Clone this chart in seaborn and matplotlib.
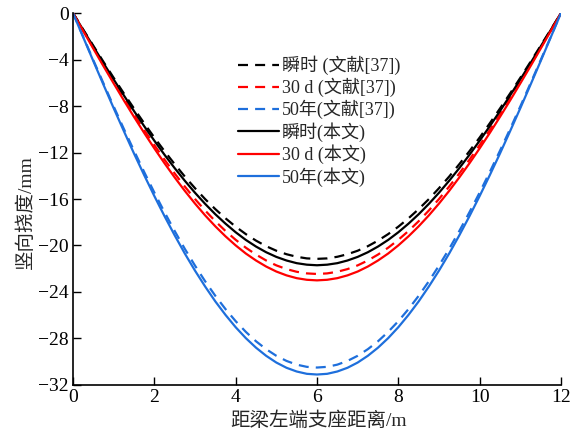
import matplotlib
matplotlib.use("Agg")
import matplotlib.pyplot as plt
import seaborn as sns
import pandas as pd

# distance from the left support (m)
x_pos = [0, 0.25, 0.5, 0.75, 1, 1.25, 1.5, 1.75, 2, 2.25, 2.5, 2.75, 3, 3.25, 3.5, 3.75,
         4, 4.25, 4.5, 4.75, 5, 5.25, 5.5, 5.75, 6, 6.25, 6.5, 6.75, 7, 7.25, 7.5, 7.75,
         8, 8.25, 8.5, 8.75, 9, 9.25, 9.5, 9.75, 10, 10.25, 10.5, 10.75, 11, 11.25, 11.5, 11.75, 12]

# vertical deflection (mm), reference [37]
ref_instant = [0, -1.41, -2.81, -4.20, -5.57, -6.91, -8.21, -9.48, -10.71, -11.88, -13.00, -14.07,
               -15.07, -16.01, -16.87, -17.66, -18.38, -19.02, -19.58, -20.06, -20.45, -20.75, -20.97, -21.11,
               -21.15,
               -21.11, -20.97, -20.75, -20.45, -20.06, -19.58, -19.02, -18.38, -17.66, -16.87, -16.01, -15.07,
               -14.07, -13.00, -11.88, -10.71, -9.48, -8.21, -6.91, -5.57, -4.20, -2.81, -1.41, 0]
ref_30d = [0, -1.50, -2.98, -4.46, -5.91, -7.33, -8.72, -10.06, -11.36, -12.61, -13.80, -14.93,
           -16.00, -16.99, -17.91, -18.75, -19.51, -20.19, -20.78, -21.29, -21.71, -22.03, -22.26, -22.40,
           -22.45,
           -22.40, -22.26, -22.03, -21.71, -21.29, -20.78, -20.19, -19.51, -18.75, -17.91, -16.99, -16.00,
           -14.93, -13.80, -12.61, -11.36, -10.06, -8.72, -7.33, -5.91, -4.46, -2.98, -1.50, 0]
ref_50y = [0, -2.03, -4.05, -6.05, -8.03, -9.96, -11.84, -13.67, -15.44, -17.13, -18.75, -20.29,
           -21.73, -23.08, -24.33, -25.47, -26.51, -27.43, -28.24, -28.92, -29.49, -29.93, -30.25, -30.44,
           -30.50,
           -30.44, -30.25, -29.93, -29.49, -28.92, -28.24, -27.43, -26.51, -25.47, -24.33, -23.08, -21.73,
           -20.29, -18.75, -17.13, -15.44, -13.67, -11.84, -9.96, -8.03, -6.05, -4.05, -2.03, 0]

# vertical deflection (mm), this paper
cur_instant = [0, -1.45, -2.88, -4.31, -5.71, -7.08, -8.43, -9.73, -10.98, -12.19, -13.34, -14.43,
               -15.46, -16.42, -17.31, -18.12, -18.86, -19.52, -20.09, -20.58, -20.98, -21.29, -21.52, -21.65,
               -21.70,
               -21.65, -21.52, -21.29, -20.98, -20.58, -20.09, -19.52, -18.86, -18.12, -17.31, -16.42, -15.46,
               -14.43, -13.34, -12.19, -10.98, -9.73, -8.43, -7.08, -5.71, -4.31, -2.88, -1.45, 0]
cur_30d = [0, -1.53, -3.06, -4.57, -6.05, -7.51, -8.93, -10.31, -11.64, -12.92, -14.14, -15.30,
           -16.39, -17.41, -18.35, -19.21, -19.99, -20.69, -21.29, -21.81, -22.24, -22.57, -22.81, -22.95,
           -23.00,
           -22.95, -22.81, -22.57, -22.24, -21.81, -21.29, -20.69, -19.99, -19.21, -18.35, -17.41, -16.39,
           -15.30, -14.14, -12.92, -11.64, -10.31, -8.93, -7.51, -6.05, -4.57, -3.06, -1.53, 0]
cur_50y = [0, -2.07, -4.13, -6.17, -8.18, -10.15, -12.08, -13.94, -15.74, -17.47, -19.12, -20.69,
           -22.16, -23.53, -24.81, -25.97, -27.03, -27.97, -28.79, -29.49, -30.07, -30.52, -30.84, -31.04,
           -31.10,
           -31.04, -30.84, -30.52, -30.07, -29.49, -28.79, -27.97, -27.03, -25.97, -24.81, -23.53, -22.16,
           -20.69, -19.12, -17.47, -15.74, -13.94, -12.08, -10.15, -8.18, -6.17, -4.13, -2.07, 0]

labels = ["瞬时 (文献[37])", "30 d (文献[37])", "50年(文献[37])",
          "瞬时(本文)", "30 d (本文)", "50年(本文)"]
x_ticks = [0, 2, 4, 6, 8, 10, 12]
y_ticks = [0, -4, -8, -12, -16, -20, -24, -28, -32]

sns.set_style("ticks")
plt.rcParams["font.family"] = ["Liberation Serif", "Noto Sans CJK SC", "DejaVu Sans"]
plt.rcParams["axes.unicode_minus"] = True

BLACK = "#000000"
RED = "#ff0000"
BLUE = "#1e6fdc"
DASH = (0, (4.5, 3.2))

series = [
    (ref_instant, BLACK, DASH),
    (ref_30d, RED, DASH),
    (ref_50y, BLUE, DASH),
    (cur_instant, BLACK, "-"),
    (cur_30d, RED, "-"),
    (cur_50y, BLUE, "-"),
]

fig = plt.figure(figsize=(5.81, 4.30), dpi=100)
ax = fig.add_axes([0.1256, 0.1047, 0.8400, 0.8650])

for (vals, color, ls), lab in zip(series, labels):
    df = pd.DataFrame({"x": x_pos, "y": vals})
    sns.lineplot(data=df, x="x", y="y", ax=ax, color=color, linestyle=ls,
                 linewidth=1.6, label=lab, sort=False)

ax.set_xlim(0, 12)
ax.set_ylim(-32, 0)
ax.set_xticks(x_ticks)
ax.set_yticks(y_ticks)
ax.set_yticklabels([f"{v}".replace("-", "\u2212") for v in y_ticks])

for side in ("top", "right"):
    ax.spines[side].set_visible(False)
for side in ("left", "bottom"):
    ax.spines[side].set_linewidth(1.2)
    ax.spines[side].set_color("black")

ax.tick_params(axis="both", direction="in", length=5.5, width=1.0,
               labelsize=14, pad=3, colors="black")

ax.set_xlabel("距梁左端支座距离/m", fontsize=14)
ax.set_ylabel("竖向挠度/mm", fontsize=14)
ax.xaxis.set_label_coords(0.504, -0.072)
ax.yaxis.set_label_coords(-0.078, 0.465)

leg = ax.legend(loc="upper left", bbox_to_anchor=(0.338, 0.885),
                frameon=False, fontsize=13, handlelength=2.25,
                handletextpad=0.2, labelspacing=0.15, borderpad=0,
                borderaxespad=0)

fig.savefig("out.png", dpi=100)
